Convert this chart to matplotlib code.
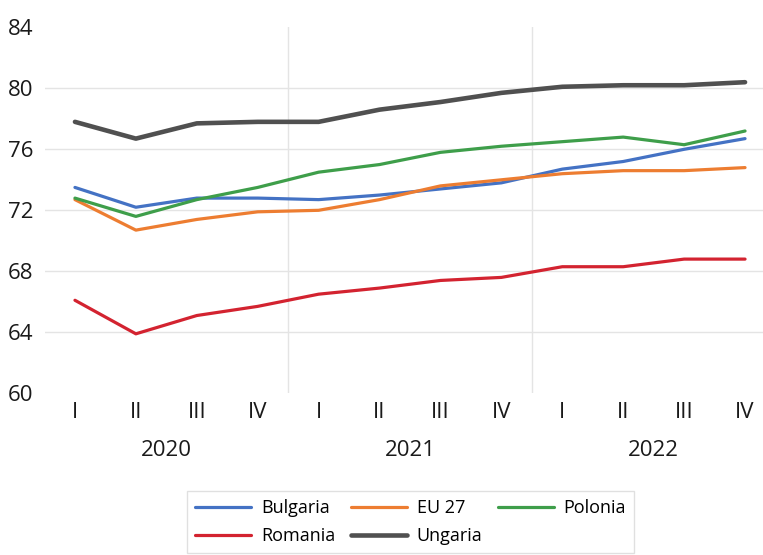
import matplotlib
matplotlib.use("Agg")
import matplotlib.pyplot as plt
import matplotlib.transforms as mtransforms

quarters = ["I", "II", "III", "IV"] * 3
years = ["2020", "2021", "2022"]

bulgaria = [73.5, 72.2, 72.8, 72.8, 72.7, 73.0, 73.4, 73.8, 74.7, 75.2, 76.0, 76.7]
eu27 = [72.7, 70.7, 71.4, 71.9, 72.0, 72.7, 73.6, 74.0, 74.4, 74.6, 74.6, 74.8]
polonia = [72.8, 71.6, 72.7, 73.5, 74.5, 75.0, 75.8, 76.2, 76.5, 76.8, 76.3, 77.2]
romania = [66.1, 63.9, 65.1, 65.7, 66.5, 66.9, 67.4, 67.6, 68.3, 68.3, 68.8, 68.8]
ungaria = [77.8, 76.7, 77.7, 77.8, 77.8, 78.6, 79.1, 79.7, 80.1, 80.2, 80.2, 80.4]

plt.rcParams['font.family'] = ['Open Sans', 'DejaVu Sans']

fig = plt.figure(figsize=(7.63, 5.55), dpi=100)
W, H = 763, 555
left, right = 44.5, 775.5
top, bottom = 27.3, 393.3
ax = fig.add_axes([left / W, 1 - bottom / H, (right - left) / W, (bottom - top) / H])

x = list(range(len(quarters)))
ax.set_xlim(-0.5, 11.5)
ax.set_ylim(60, 84)

for v in [64, 68, 72, 76, 80]:
    ax.axhline(v, color="#E4E4E4", lw=1.0, zorder=0)
for xv in [3.5, 7.5]:
    ax.axvline(xv, color="#E4E4E4", lw=1.0, zorder=0)

h_bg, = ax.plot(x, bulgaria, color="#4472C4", lw=2.3, label="Bulgaria", solid_capstyle="round")
h_eu, = ax.plot(x, eu27, color="#ED7D31", lw=2.3, label="EU 27", solid_capstyle="round")
h_pl, = ax.plot(x, polonia, color="#3E9E4A", lw=2.3, label="Polonia", solid_capstyle="round")
h_ro, = ax.plot(x, romania, color="#D32330", lw=2.3, label="Romania", solid_capstyle="round")
h_hu, = ax.plot(x, ungaria, color="#505050", lw=3.3, label="Ungaria", solid_capstyle="round")

for s in ax.spines.values():
    s.set_visible(False)

ax.set_yticks([60, 64, 68, 72, 76, 80, 84])
ax.tick_params(axis="y", length=0, labelsize=16, pad=8, labelcolor="#1a1a1a")
ax.set_xticks(x)
ax.set_xticklabels(quarters)
ax.tick_params(axis="x", length=0, labelsize=16, pad=6, labelcolor="#1a1a1a")

trans = mtransforms.blended_transform_factory(ax.transData, fig.transFigure)
for i, yr in enumerate(years):
    ax.text(i * 4 + 1.5, 1 - 451 / H, yr, transform=trans, ha="center", va="center",
            fontsize=16, color="#1a1a1a")

handles = [h_bg, h_ro, h_eu, h_hu, h_pl]
labels = [h.get_label() for h in handles]
leg = fig.legend(handles, labels, loc="upper left", bbox_to_anchor=(187 / W, 1 - 491 / H), ncol=3,
                 frameon=True, fontsize=13, handlelength=3.1, handletextpad=0.55,
                 columnspacing=0.85, borderpad=0.45, labelspacing=0.55, borderaxespad=0,
                 fancybox=False)
leg.get_frame().set_edgecolor("#D9D9D9")
leg.get_frame().set_linewidth(1.0)

fig.savefig("out.png", dpi=100)
